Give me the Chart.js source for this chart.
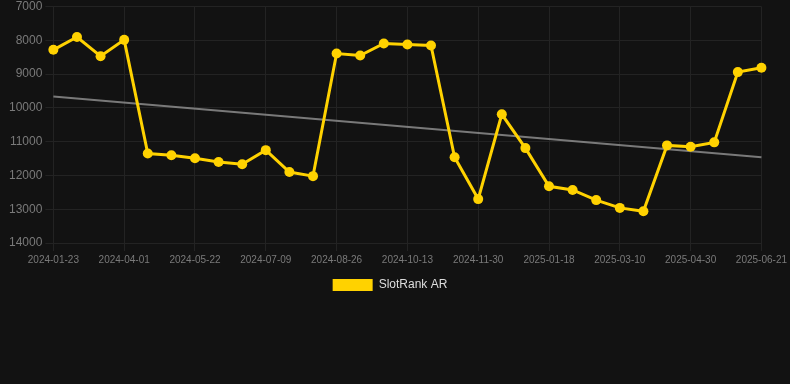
<!DOCTYPE html>
<html>
<head>
<meta charset="utf-8">
<script src="https://cdn.jsdelivr.net/npm/chart.js@4"></script>
<style>
    html, body { margin: 0; padding: 0; background: #121212; }
    .chart-wrap { position: relative; width: 790px; height: 301px; }
</style>
</head>
<body>
<div class="chart-wrap"><canvas id="rank-chart"></canvas></div>
<script>
const dates = [
    '2024-01-23', '2024-02-15', '2024-03-09', '2024-04-01', '2024-04-18', '2024-05-05',
    '2024-05-22', '2024-06-07', '2024-06-23', '2024-07-09', '2024-07-25', '2024-08-10',
    '2024-08-26', '2024-09-11', '2024-09-27', '2024-10-13', '2024-10-29', '2024-11-14',
    '2024-11-30', '2024-12-16', '2025-01-02', '2025-01-18', '2025-02-04', '2025-02-21',
    '2025-03-10', '2025-03-27', '2025-04-13', '2025-04-30', '2025-05-17', '2025-06-04',
    '2025-06-21'
];
const rankValues = [
    8280, 7900, 8470, 7985, 11350, 11400,
    11490, 11600, 11670, 11250, 11900, 12020,
    8390, 8450, 8090, 8120, 8150, 11460,
    12700, 10190, 11190, 12320, 12430, 12730,
    12960, 13060, 11110, 11150, 11020, 8940,
    8810
];
// trend line endpoints (first / last date)
const trendValues = [9660, 11460];
const yTicks = [7000, 8000, 9000, 10000, 11000, 12000, 13000, 14000];

const charts = {};

function drawChart(id, config) {
    const canvas = document.getElementById(id);
    if (!canvas) return;
    if (charts[id]) charts[id].destroy();
    charts[id] = new Chart(canvas.getContext('2d'), config);
}

// legend sits a bit right of centre in the original
const legendShift = {
    id: 'legendShift',
    afterLayout(chart) {
        if (!chart.legend) return;
        chart.legend.left += 6;
        chart.legend.right += 6;
    }
};

function renderRankChart() {
    const trend = [
        { x: dates[0], y: trendValues[0] },
        { x: dates[dates.length - 1], y: trendValues[1] }
    ];
    drawChart('rank-chart', {
        type: 'line',
        data: {
            labels: dates,
            datasets: [{
                label: 'SlotRank AR',
                data: rankValues,
                borderColor: '#FFD200',
                backgroundColor: '#FFD200',
                borderWidth: 3,
                pointRadius: 5,
                pointHoverRadius: 6,
                pointBackgroundColor: '#FFD200',
                pointBorderWidth: 0,
                tension: 0
            }, {
                label: 'trend',
                data: trend,
                borderColor: 'rgba(140, 140, 140, 0.85)',
                borderWidth: 2,
                pointRadius: 0,
                fill: false
            }]
        },
        plugins: [legendShift],
        options: {
            responsive: true,
            maintainAspectRatio: false,
            animation: false,
            layout: { padding: { left: 6, right: 28, top: 0, bottom: 0 } },
            plugins: {
                legend: {
                    position: 'bottom',
                    labels: {
                        color: '#dddddd',
                        font: { family: 'Liberation Sans, Arial', size: 12 },
                        boxWidth: 40,
                        boxHeight: 12,
                        generateLabels: chart => Chart.defaults.plugins.legend.labels.generateLabels(chart)
                            .filter(item => item.text !== 'trend')
                            .map(item => ({ ...item, lineWidth: 0 }))
                    }
                },
                tooltip: { enabled: false }
            },
            scales: {
                y: {
                    reverse: true,
                    min: 7000,
                    max: 14000,
                    afterBuildTicks: axis => { axis.ticks = yTicks.map(v => ({ value: v })); },
                    ticks: {
                        color: '#7a7a7a',
                        font: { family: 'Liberation Sans, Arial', size: 12, lineHeight: 0.6 },
                        callback: v => String(v)
                    },
                    grid: { color: '#232323' },
                    border: { display: false }
                },
                x: {
                    ticks: {
                        color: '#7a7a7a',
                        font: { family: 'Liberation Sans, Arial', size: 10 },
                        maxRotation: 0,
                        autoSkip: false,
                        callback: function (val, i) { return i % 3 === 0 ? this.getLabelForValue(val) : null; }
                    },
                    grid: { color: '#232323' },
                    border: { display: false }
                }
            }
        }
    });
}

document.addEventListener('DOMContentLoaded', renderRankChart);
</script>
</body>
</html>
